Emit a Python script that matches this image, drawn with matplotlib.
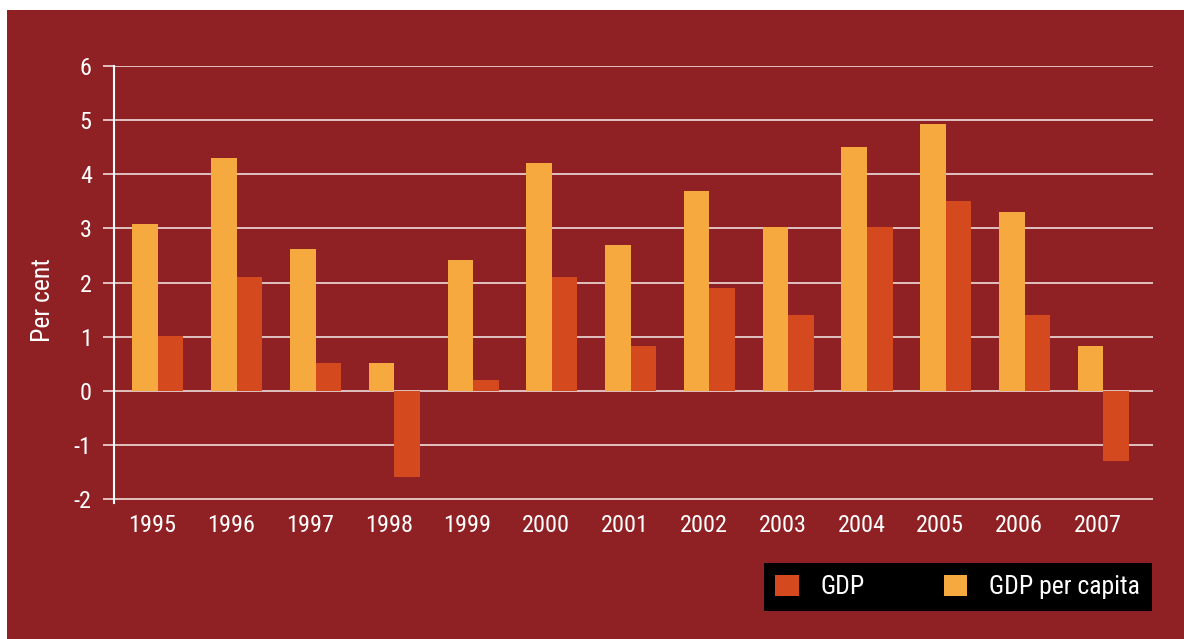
import matplotlib
matplotlib.use("Agg")
import matplotlib.pyplot as plt
from matplotlib.patches import Rectangle, Patch
from matplotlib import font_manager
import numpy as np

years = ["1995", "1996", "1997", "1998", "1999", "2000", "2001",
         "2002", "2003", "2004", "2005", "2006", "2007"]
gdp_per_capita = [3.09, 4.31, 2.62, 0.52, 2.42, 4.20, 2.70, 3.70, 3.03, 4.51, 4.92, 3.31, 0.83]
gdp = [1.02, 2.10, 0.52, -1.59, 0.20, 2.10, 0.83, 1.90, 1.40, 3.03, 3.51, 1.40, -1.29]
yticks = [-2, -1, 0, 1, 2, 3, 4, 5, 6]

BG = "#8F2125"
YELLOW = "#F6A93E"
RED = "#D44A1E"
GRID = "#E8CDCD"

# pick a condensed face if available
fonts = font_manager.fontManager.ttflist
family, stretch = "DejaVu Sans", "normal"
prefs = ["Liberation Sans Narrow", "Roboto Condensed", "Open Sans Condensed",
         "Noto Sans Condensed", "DejaVu Sans Condensed"]
names = {f.name for f in fonts}
found = False
for p in prefs:
    if p in names:
        family, found = p, True
        break
if not found:
    for f in fonts:
        if f.stretch in ("condensed", "semi-condensed"):
            family, stretch, found = f.name, f.stretch, True
            break
plt.rcParams['font.family'] = [family, 'DejaVu Sans']
plt.rcParams['font.stretch'] = stretch

W, H = 1184, 639
fig = plt.figure(figsize=(W / 100, H / 100), dpi=100, facecolor="white")
fig.patches.append(Rectangle((7 / W, 0), 1 - 7 / W, 1 - 10 / H,
                             transform=fig.transFigure, facecolor=BG,
                             edgecolor="none", zorder=-10))

ax = fig.add_axes([114 / W, 1 - 503 / H, (1153 - 114) / W, (503 - 66) / H])
ax.set_facecolor("none")

x = np.arange(len(years))
bw = 0.324
ax.bar(x - bw / 2, gdp_per_capita, width=bw, color=YELLOW, zorder=3, label="GDP per capita")
ax.bar(x + bw / 2, gdp, width=bw, color=RED, zorder=3, label="GDP")

ax.set_xlim(-0.558, 12.63)
ax.set_ylim(-2.07, 6)
ax.set_yticks(yticks)
ax.set_yticklabels([str(t) for t in yticks])
ax.set_xticks(x - 0.07)
ax.set_xticklabels(years)

for sp in ["top", "right", "bottom"]:
    ax.spines[sp].set_visible(False)
ax.spines["left"].set_color("white")
ax.spines["left"].set_linewidth(1.5)

ax.yaxis.grid(True, color=GRID, linewidth=1.3, zorder=0)
ax.set_axisbelow(True)
ax.tick_params(axis="y", length=8, width=1.3, color=GRID, pad=8,
               labelcolor="white", labelsize=17.5)
ax.tick_params(axis="x", length=0, pad=8, labelcolor="white", labelsize=17.5)

ax.set_ylabel("Per cent", color="white", fontsize=18.5, va="center")
ax.yaxis.set_label_coords((43 - 114) / (1153 - 114), (503 - 300) / (503 - 66))

handles = [Patch(facecolor=RED, edgecolor="none", label="GDP"),
           Patch(facecolor=YELLOW, edgecolor="none", label="GDP per capita")]
leg = fig.legend(handles=handles, loc="upper right",
                 bbox_to_anchor=(1152 / W, 1 - 563 / H), ncol=2,
                 frameon=True, fancybox=False, framealpha=1,
                 facecolor="black", edgecolor="black", fontsize=18.5,
                 handlelength=0.9, handleheight=0.9, handletextpad=0.85,
                 columnspacing=3.1, borderpad=0.46, borderaxespad=0)
for t in leg.get_texts():
    t.set_color("white")
leg.get_frame().set_linewidth(0)

fig.savefig("out.png", dpi=100, facecolor="white")
